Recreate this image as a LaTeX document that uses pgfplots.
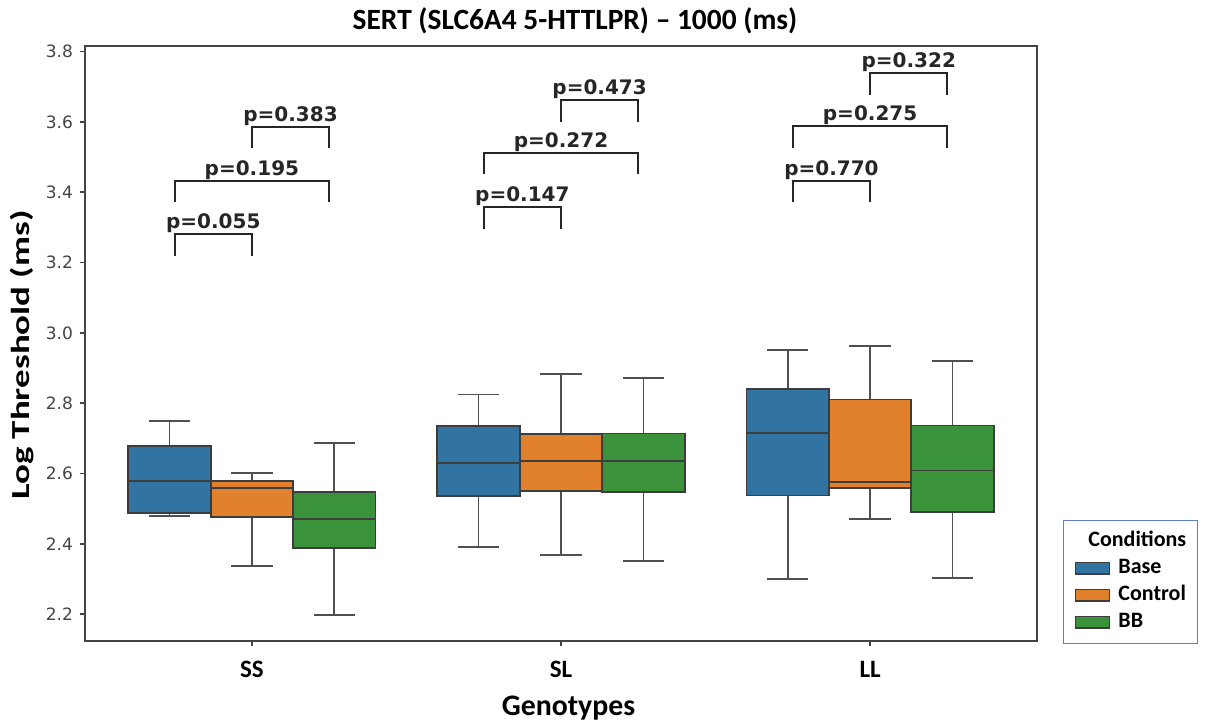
\documentclass[border=0pt]{standalone}
\usepackage{fontspec}
\setmainfont{Carlito}
\newfontfamily\dejavu{DejaVu Sans}
\usepackage{graphicx}
\usepackage{pgfplots}
\usepgfplotslibrary{statistics}
\pgfplotsset{compat=1.18}
\definecolor{cbase}{HTML}{3274A1}
\definecolor{cctrl}{HTML}{E1812C}
\definecolor{cbb}{HTML}{3A923A}
\definecolor{edge}{HTML}{3D3D3D}
\definecolor{whisk}{HTML}{505050}
\definecolor{axgray}{HTML}{444444}
\definecolor{brk}{HTML}{262626}
\definecolor{legborder}{HTML}{5B7FBF}
\tikzset{pv/.style={anchor=south, inner sep=0pt, yshift=0.3pt, text=brk,
    font=\dejavu\bfseries\fontsize{10}{12}\selectfont}}
% draw position, colour, lower whisker, lower quartile, median, upper quartile, upper whisker
\newcommand\bx[7]{\addplot[forget plot, draw=edge, fill=#2, line width=0.9pt,
  boxplot prepared={draw direction=y, draw position=#1, lower whisker=#3, lower quartile=#4, median=#5,
  upper quartile=#6, upper whisker=#7, box extend=0.2667, whisker extend=0.1333}] coordinates {};}
% x1, x2, height, label
\newcommand\brk[4]{\addplot[forget plot, brk, line width=1pt] coordinates {(#1,#3-0.062) (#1,#3) (#2,#3) (#2,#3-0.062)};
  \node[pv] at (axis cs:{(#1+#2)/2},#3) {#4};}
\begin{document}
\begin{tikzpicture}
\begin{axis}[
  scale only axis, width=476pt, height=297.5pt,
  xmin=-0.54, xmax=2.54, ymin=2.124, ymax=3.816,
  axis line style={color=axgray, line width=0.8pt},
  tick style={color=axgray, line width=0.8pt},
  tick align=outside, major tick length=2.5pt,
  xtick pos=bottom, ytick pos=left,
  xtick={0,1,2}, xticklabels={SS,SL,LL},
  xticklabel style={font=\bfseries\fontsize{12.5}{14}\selectfont, anchor=base, yshift=-16pt},
  ytick={2.2,2.4,2.6,2.8,3.0,3.2,3.4,3.6,3.8},
  /pgf/number format/assume math mode=true,
  yticklabel style={/pgf/number format/fixed, /pgf/number format/fixed zerofill,
    /pgf/number format/precision=1, font=\dejavu\fontsize{8.5}{10}\selectfont, text=axgray},
  title={SERT (SLC6A4 5-HTTLPR) -- 1000 (ms)},
  title style={at={(axis description cs:0.5147,1.0269)}, anchor=base, yshift=-6pt,
    font=\bfseries\fontsize{14.7}{17}\selectfont},
  xlabel={Genotypes},
  xlabel style={at={(axis description cs:0.5079,-0.1244)}, anchor=base,
    font=\bfseries\fontsize{14.9}{17}\selectfont},
  ylabel={\scalebox{1.42}[1]{Log Threshold (ms)}},
  ylabel style={at={(axis description cs:-0.0578,0.4805)}, anchor=base,
    font=\bfseries\fontsize{13}{15}\selectfont},
  boxplot/every whisker/.style={draw=whisk, fill=none},
  boxplot/every median/.style={draw=edge},
  legend style={at={(1,0)}, anchor=south west, xshift=13pt, yshift=-1.5pt,
    draw=legborder, line width=0.6pt, font=\bfseries\fontsize{11}{13}\selectfont,
    inner xsep=5.75pt, inner ysep=4pt, row sep=0.5pt,
    nodes={inner xsep=0pt, inner ysep=1pt, text height=8pt, text depth=3pt},
    /tikz/every odd column/.append style={column sep=4pt}},
  legend cell align=left,
  legend image code/.code={\draw[#1, line width=0.6pt] (0pt,-0.5pt) rectangle (17.5pt,4.5pt);},
]
% SS
\bx{-0.2667}{cbase}{2.479}{2.488}{2.579}{2.678}{2.749}
\bx{0}{cctrl}{2.338}{2.477}{2.559}{2.578}{2.601}
\bx{0.2667}{cbb}{2.199}{2.388}{2.471}{2.548}{2.687}
% SL
\bx{0.7333}{cbase}{2.392}{2.537}{2.630}{2.736}{2.825}
\bx{1}{cctrl}{2.369}{2.550}{2.636}{2.712}{2.883}
\bx{1.2667}{cbb}{2.352}{2.547}{2.635}{2.714}{2.871}
% LL
\bx{1.7333}{cbase}{2.300}{2.538}{2.716}{2.841}{2.951}
\bx{2}{cctrl}{2.471}{2.560}{2.575}{2.811}{2.962}
\bx{2.2667}{cbb}{2.302}{2.490}{2.609}{2.737}{2.921}
% significance brackets
\brk{-0.25}{0}{3.282}{p=0.055}
\brk{-0.25}{0.25}{3.433}{p=0.195}
\brk{0}{0.25}{3.587}{p=0.383}
\brk{0.75}{1}{3.358}{p=0.147}
\brk{0.75}{1.25}{3.513}{p=0.272}
\brk{1}{1.25}{3.663}{p=0.473}
\brk{1.75}{2}{3.433}{p=0.770}
\brk{1.75}{2.25}{3.589}{p=0.275}
\brk{2}{2.25}{3.739}{p=0.322}
% legend
\addlegendimage{empty legend}
\addlegendentry{\hspace{-15pt}Conditions}
\addlegendimage{area legend, fill=cbase, draw=edge}
\addlegendentry{Base}
\addlegendimage{area legend, fill=cctrl, draw=edge}
\addlegendentry{Control}
\addlegendimage{area legend, fill=cbb, draw=edge}
\addlegendentry{BB}
\end{axis}
\pgfresetboundingbox
\useasboundingbox (-42.5pt,-39.65pt) rectangle (560pt,320.5pt);
\end{tikzpicture}
\end{document}
